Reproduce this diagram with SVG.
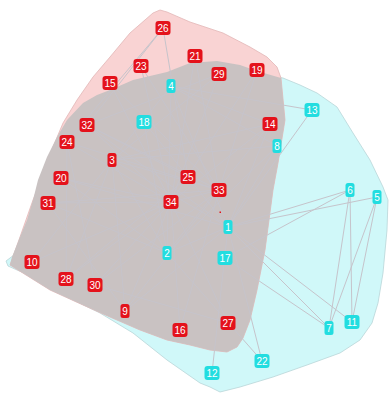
<svg xmlns="http://www.w3.org/2000/svg" width="389" height="393" viewBox="0 0 389 393">
<style>
.hc{fill:#d0f8f9;stroke:#b9d6d8;stroke-width:0.8}
.hr{fill:#f9d3d3;stroke:#e2b6b6;stroke-width:0.8}
.hg{fill:#c9c2c2;stroke:none}
.e line{stroke:#c6c4cb;stroke-width:1}
.r rect{fill:#e4121b}
.c rect{fill:#22dde0}
text{font-family:"Liberation Sans",Arial,sans-serif;font-size:10px;fill:#fff;text-anchor:middle;dominant-baseline:central}
</style>
<rect width="389" height="393" fill="#fff"/>
<g id="hulls">
<path class="hc" d="M6,261 L14,255 L40,200 L110,90 L200,63 L283,78 L300,85 L317,93 L337,107 L353,133 L370,160 L383,187 L388,200 L387,230 L383,273 L378,303 L372,323 L360,340 L340,353 L307,365 L273,377 L240,387 L220,392 L210,387 L200,383 L167,360 L133,333 L100,313 L67,297 L33,277 L8,266 Z"/>
<path class="hr" d="M153,13 L160,10 L167,12 L190,22 L223,33 L250,47 L267,57 L277,67 L281,78 L285,120 L278,163 L273,190 L265,250 L257,290 L250,320 L243,338 L237,347 L227,352 L210,350 L190,345 L167,340 L140,330 L110,317 L83,305 L50,290 L10,265 L20,237 L33,200 L37,190 L43,173 L53,147 L63,123 L77,100 L93,77 L110,57 L130,33 Z"/>
<path class="hg" d="M110,90 L133,80 L167,72 L190,63 L217,61 L240,65 L257,71 L281,78 L285,120 L278,163 L273,190 L265,250 L257,290 L250,320 L243,338 L237,347 L227,352 L210,350 L190,345 L167,340 L140,330 L110,317 L83,305 L50,290 L10,265 L12,257 L20,237 L27,220 L33,200 L38,180 L47,157 L57,137 L67,120 L83,103 L97,95 Z"/>
</g>
<g id="connectors" class="e">
<line x1="228" y1="227" x2="167" y2="253"/>
<line x1="228" y1="227" x2="112" y2="160"/>
<line x1="228" y1="227" x2="171" y2="86"/>
<line x1="228" y1="227" x2="377" y2="197"/>
<line x1="228" y1="227" x2="350" y2="190"/>
<line x1="228" y1="227" x2="329" y2="328"/>
<line x1="228" y1="227" x2="277" y2="146"/>
<line x1="228" y1="227" x2="125" y2="311"/>
<line x1="228" y1="227" x2="352" y2="322"/>
<line x1="228" y1="227" x2="212" y2="373"/>
<line x1="228" y1="227" x2="312" y2="110"/>
<line x1="228" y1="227" x2="270" y2="124"/>
<line x1="228" y1="227" x2="144" y2="122"/>
<line x1="228" y1="227" x2="61" y2="178"/>
<line x1="228" y1="227" x2="262" y2="361"/>
<line x1="228" y1="227" x2="87" y2="125"/>
<line x1="167" y1="253" x2="112" y2="160"/>
<line x1="167" y1="253" x2="171" y2="86"/>
<line x1="167" y1="253" x2="277" y2="146"/>
<line x1="167" y1="253" x2="270" y2="124"/>
<line x1="167" y1="253" x2="144" y2="122"/>
<line x1="167" y1="253" x2="61" y2="178"/>
<line x1="167" y1="253" x2="262" y2="361"/>
<line x1="167" y1="253" x2="48" y2="203"/>
<line x1="112" y1="160" x2="171" y2="86"/>
<line x1="112" y1="160" x2="277" y2="146"/>
<line x1="112" y1="160" x2="125" y2="311"/>
<line x1="112" y1="160" x2="32" y2="262"/>
<line x1="112" y1="160" x2="270" y2="124"/>
<line x1="112" y1="160" x2="66" y2="279"/>
<line x1="112" y1="160" x2="219" y2="74"/>
<line x1="112" y1="160" x2="219" y2="190"/>
<line x1="171" y1="86" x2="277" y2="146"/>
<line x1="171" y1="86" x2="312" y2="110"/>
<line x1="171" y1="86" x2="270" y2="124"/>
<line x1="377" y1="197" x2="329" y2="328"/>
<line x1="377" y1="197" x2="352" y2="322"/>
<line x1="350" y1="190" x2="329" y2="328"/>
<line x1="350" y1="190" x2="352" y2="322"/>
<line x1="350" y1="190" x2="225" y2="258"/>
<line x1="329" y1="328" x2="225" y2="258"/>
<line x1="125" y1="311" x2="48" y2="203"/>
<line x1="125" y1="311" x2="219" y2="190"/>
<line x1="125" y1="311" x2="171" y2="202"/>
<line x1="32" y1="262" x2="171" y2="202"/>
<line x1="270" y1="124" x2="171" y2="202"/>
<line x1="110" y1="83" x2="219" y2="190"/>
<line x1="110" y1="83" x2="171" y2="202"/>
<line x1="180" y1="330" x2="219" y2="190"/>
<line x1="180" y1="330" x2="171" y2="202"/>
<line x1="257" y1="70" x2="219" y2="190"/>
<line x1="257" y1="70" x2="171" y2="202"/>
<line x1="61" y1="178" x2="171" y2="202"/>
<line x1="195" y1="56" x2="219" y2="190"/>
<line x1="195" y1="56" x2="171" y2="202"/>
<line x1="141" y1="66" x2="219" y2="190"/>
<line x1="141" y1="66" x2="171" y2="202"/>
<line x1="67" y1="142" x2="163" y2="28"/>
<line x1="67" y1="142" x2="66" y2="279"/>
<line x1="67" y1="142" x2="95" y2="285"/>
<line x1="67" y1="142" x2="219" y2="190"/>
<line x1="67" y1="142" x2="171" y2="202"/>
<line x1="188" y1="177" x2="163" y2="28"/>
<line x1="188" y1="177" x2="66" y2="279"/>
<line x1="188" y1="177" x2="87" y2="125"/>
<line x1="163" y1="28" x2="87" y2="125"/>
<line x1="228" y1="323" x2="95" y2="285"/>
<line x1="228" y1="323" x2="171" y2="202"/>
<line x1="66" y1="279" x2="171" y2="202"/>
<line x1="219" y1="74" x2="87" y2="125"/>
<line x1="219" y1="74" x2="171" y2="202"/>
<line x1="95" y1="285" x2="219" y2="190"/>
<line x1="95" y1="285" x2="171" y2="202"/>
<line x1="48" y1="203" x2="219" y2="190"/>
<line x1="48" y1="203" x2="171" y2="202"/>
<line x1="87" y1="125" x2="219" y2="190"/>
<line x1="87" y1="125" x2="171" y2="202"/>
<line x1="219" y1="190" x2="171" y2="202"/>
</g>
<rect x="219.5" y="211.5" width="1.5" height="1.5" fill="#e4121b"/>
<g id="n1" class="c"><rect x="223.5" y="220" width="9" height="14" rx="2.5"/><text x="228" y="227">1</text></g>
<g id="n2" class="c"><rect x="162.5" y="246" width="9" height="14" rx="2.5"/><text x="167" y="253">2</text></g>
<g id="n3" class="r"><rect x="107.5" y="153" width="9" height="14" rx="2.5"/><text x="112" y="160">3</text></g>
<g id="n4" class="c"><rect x="166.5" y="79" width="9" height="14" rx="2.5"/><text x="171" y="86">4</text></g>
<g id="n5" class="c"><rect x="372.5" y="190" width="9" height="14" rx="2.5"/><text x="377" y="197">5</text></g>
<g id="n6" class="c"><rect x="345.5" y="183" width="9" height="14" rx="2.5"/><text x="350" y="190">6</text></g>
<g id="n7" class="c"><rect x="324.5" y="321" width="9" height="14" rx="2.5"/><text x="329" y="328">7</text></g>
<g id="n8" class="c"><rect x="272.5" y="139" width="9" height="14" rx="2.5"/><text x="277" y="146">8</text></g>
<g id="n9" class="r"><rect x="120.5" y="304" width="9" height="14" rx="2.5"/><text x="125" y="311">9</text></g>
<g id="n10" class="r"><rect x="24.5" y="255" width="15" height="14" rx="3"/><text x="32" y="262">10</text></g>
<g id="n11" class="c"><rect x="344.5" y="315" width="15" height="14" rx="3"/><text x="352" y="322">11</text></g>
<g id="n12" class="c"><rect x="204.5" y="366" width="15" height="14" rx="3"/><text x="212" y="373">12</text></g>
<g id="n13" class="c"><rect x="304.5" y="103" width="15" height="14" rx="3"/><text x="312" y="110">13</text></g>
<g id="n14" class="r"><rect x="262.5" y="117" width="15" height="14" rx="3"/><text x="270" y="124">14</text></g>
<g id="n15" class="r"><rect x="102.5" y="76" width="15" height="14" rx="3"/><text x="110" y="83">15</text></g>
<g id="n16" class="r"><rect x="172.5" y="323" width="15" height="14" rx="3"/><text x="180" y="330">16</text></g>
<g id="n17" class="c"><rect x="217.5" y="251" width="15" height="14" rx="3"/><text x="225" y="258">17</text></g>
<g id="n18" class="c"><rect x="136.5" y="115" width="15" height="14" rx="3"/><text x="144" y="122">18</text></g>
<g id="n19" class="r"><rect x="249.5" y="63" width="15" height="14" rx="3"/><text x="257" y="70">19</text></g>
<g id="n20" class="r"><rect x="53.5" y="171" width="15" height="14" rx="3"/><text x="61" y="178">20</text></g>
<g id="n21" class="r"><rect x="187.5" y="49" width="15" height="14" rx="3"/><text x="195" y="56">21</text></g>
<g id="n22" class="c"><rect x="254.5" y="354" width="15" height="14" rx="3"/><text x="262" y="361">22</text></g>
<g id="n23" class="r"><rect x="133.5" y="59" width="15" height="14" rx="3"/><text x="141" y="66">23</text></g>
<g id="n24" class="r"><rect x="59.5" y="135" width="15" height="14" rx="3"/><text x="67" y="142">24</text></g>
<g id="n25" class="r"><rect x="180.5" y="170" width="15" height="14" rx="3"/><text x="188" y="177">25</text></g>
<g id="n26" class="r"><rect x="155.5" y="21" width="15" height="14" rx="3"/><text x="163" y="28">26</text></g>
<g id="n27" class="r"><rect x="220.5" y="316" width="15" height="14" rx="3"/><text x="228" y="323">27</text></g>
<g id="n28" class="r"><rect x="58.5" y="272" width="15" height="14" rx="3"/><text x="66" y="279">28</text></g>
<g id="n29" class="r"><rect x="211.5" y="67" width="15" height="14" rx="3"/><text x="219" y="74">29</text></g>
<g id="n30" class="r"><rect x="87.5" y="278" width="15" height="14" rx="3"/><text x="95" y="285">30</text></g>
<g id="n31" class="r"><rect x="40.5" y="196" width="15" height="14" rx="3"/><text x="48" y="203">31</text></g>
<g id="n32" class="r"><rect x="79.5" y="118" width="15" height="14" rx="3"/><text x="87" y="125">32</text></g>
<g id="n33" class="r"><rect x="211.5" y="183" width="15" height="14" rx="3"/><text x="219" y="190">33</text></g>
<g id="n34" class="r"><rect x="163.5" y="195" width="15" height="14" rx="3"/><text x="171" y="202">34</text></g>
</svg>
